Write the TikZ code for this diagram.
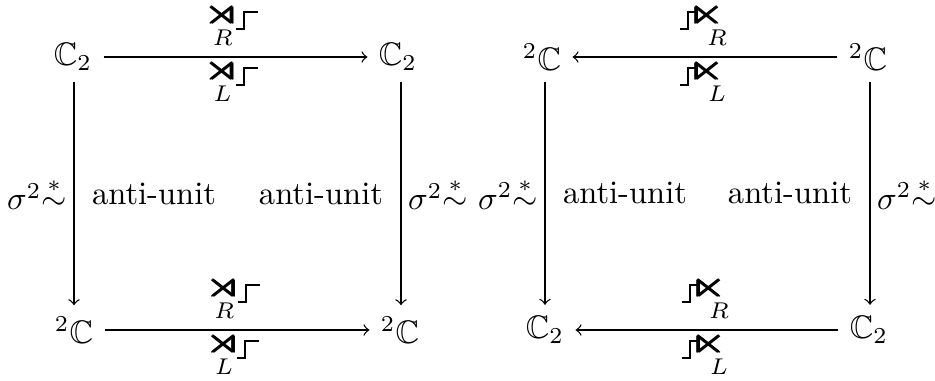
\documentclass[tikz,border=0pt]{standalone}
\usepackage{amsmath,amssymb}
\newcommand\stpg[2]{\rule[-1.2pt]{#1}{0.6pt}\rule[-1.2pt]{0.6pt}{5.6pt}\rule[3.8pt]{#2}{0.6pt}}
\newcommand\glyphbox[1]{\hbox{\makebox[5.8pt]{\smash{\raisebox{0.3pt}{\scalebox{1.4}[1.1]{$\pmb{#1}$}}}}\rule{0pt}{4.4pt}}}
\newcommand\opsub[3]{\vtop{\offinterlineskip\halign{\hfil##\hfil\cr
  \glyphbox{#1}\cr\noalign{\kern1.2pt}\hbox{\kern#3$\scriptstyle #2$\kern-#3}\cr}}}
\newcommand\lablR[1]{\opsub{\rtimes}{#1}{0pt}\kern1.2pt\stpg{2.1pt}{4pt}}
\newcommand\lablL[1]{\stpg{2.1pt}{2.1pt}\kern0.6pt\opsub{\ltimes}{#1}{3pt}}
\newcommand\sglab{$\sigma^2{\overset{*}{\sim}}$}
\begin{document}
\begin{tikzpicture}[x=0.307pt,y=-0.307pt,
  obj/.style={},
  labup/.style={above,inner xsep=0pt,inner ysep=0.5pt,yshift=2.9pt},
  labdn/.style={below,inner xsep=0pt,inner ysep=0.5pt,yshift=-2.5pt},
  sll/.style={left,inner sep=1pt,xshift=-1pt},
  slr/.style={right,inner sep=1pt,xshift=1pt},
  arr/.style={->}]
\useasboundingbox (0,0) rectangle (935,380);
% left square
\node[obj] (a1) at (73,57) {$\mathbb{C}_2$};
\node[obj] (a2) at (398,57) {$\mathbb{C}_2$};
\node[obj] (a3) at (74,330) {${}^2\mathbb{C}$};
\node[obj] (a4) at (400,330) {${}^2\mathbb{C}$};
\draw[arr] (a1) -- (a2)
  node[midway,labup] (t1) {\lablR{R}}
  node[midway,labdn] (t2) {\lablR{L}};
\draw[arr] (a3) -- (a4)
  node[midway,labup] (t3) {\lablR{R}}
  node[midway,labdn] (t4) {\lablR{L}};
\draw[arr] (a1.south -| 74,0) -- (a3.north -| 74,0)
  node[midway,sll] (s1) {\sglab}
  node[midway,right,xshift=2pt] (u1) {anti-unit};
\draw[arr] (a2.south -| 401,0) -- (a4.north -| 401,0)
  node[midway,slr] (s2) {\sglab}
  node[midway,left,xshift=-2pt] (u2) {anti-unit};
% right square
\node[obj] (b1) at (542,57) {${}^2\mathbb{C}$};
\node[obj] (b2) at (868,57) {${}^2\mathbb{C}$};
\node[obj] (b3) at (545,330) {$\mathbb{C}_2$};
\node[obj] (b4) at (869,330) {$\mathbb{C}_2$};
\draw[arr] (b2) -- (b1)
  node[midway,labup,xshift=-2pt] (r1) {\lablL{R}}
  node[midway,labdn,xshift=-2pt] (r2) {\lablL{L}};
\draw[arr] (b4) -- (b3)
  node[midway,labup,xshift=-2pt] (r3) {\lablL{R}}
  node[midway,labdn,xshift=-2pt] (r4) {\lablL{L}};
\draw[arr] (b1.south -| 545,0) -- (b3.north -| 545,0)
  node[midway,sll] (s3) {\sglab}
  node[midway,right,xshift=2pt] (u3) {anti-unit};
\draw[arr] (b2.south -| 870,0) -- (b4.north -| 870,0)
  node[midway,slr] (s4) {\sglab}
  node[midway,left,xshift=-2pt] (u4) {anti-unit};
\end{tikzpicture}
\end{document}
